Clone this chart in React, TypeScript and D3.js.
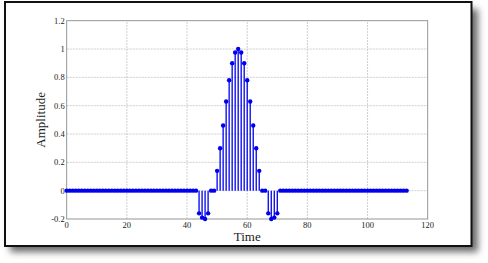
import * as d3 from 'd3';
import { useEffect, useRef } from 'react';

// samples 44..70; everything else sits on zero
const pulseStart = 44;
const pulse = [
  -0.16, -0.19, -0.2, -0.16, 0, 0,
  0.14, 0.3, 0.46, 0.63, 0.78, 0.9, 0.975, 1, 0.975, 0.9, 0.78, 0.63, 0.46, 0.3, 0.14,
  0, 0, -0.16, -0.2, -0.19, -0.16,
];
const sampleCount = 114;
const xTicks = [0, 20, 40, 60, 80, 100, 120];
const yTicks = [-0.2, 0, 0.2, 0.4, 0.6, 0.8, 1, 1.2];

const App = () => {
  const ref = useRef<SVGSVGElement>(null);

  useEffect(() => {
    const svg = d3.select(ref.current);
    svg.selectAll('*').remove();

    var W = 488,
      H = 263;
    var margin = { top: 20.7, left: 66.7, right: 60.3, bottom: 44 };

    svg.attr('width', W).attr('height', H);

    // frame with drop shadow
    const defs = svg.append('defs');
    defs
      .append('filter')
      .attr('id', 'shadow')
      .attr('x', '-10%')
      .attr('y', '-10%')
      .attr('width', '130%')
      .attr('height', '140%')
      .append('feGaussianBlur')
      .attr('stdDeviation', 3.5);

    svg
      .append('rect')
      .attr('x', 10)
      .attr('y', 9)
      .attr('width', 468)
      .attr('height', 243)
      .attr('fill', '#444')
      .attr('opacity', 0.8)
      .attr('filter', 'url(#shadow)');
    svg
      .append('rect')
      .attr('x', 5)
      .attr('y', 2)
      .attr('width', 466.5)
      .attr('height', 244)
      .attr('fill', 'white')
      .attr('stroke', '#111')
      .attr('stroke-width', 2);

    const x = d3
      .scaleLinear()
      .domain([0, 120])
      .range([margin.left, W - margin.right]);
    const y = d3
      .scaleLinear()
      .domain([-0.2, 1.2])
      .range([H - margin.bottom, margin.top]);

    const data = d3.range(sampleCount).map((n) => {
      const i = n - pulseStart;
      return { t: n, v: i >= 0 && i < pulse.length ? pulse[i] : 0 };
    });

    // grid
    const grid = svg.append('g').attr('stroke', '#c4c4c4').attr('stroke-width', 0.8).attr('stroke-dasharray', '2,1');
    grid
      .selectAll('line.gx')
      .data(xTicks.slice(1, -1))
      .join('line')
      .attr('x1', (d) => x(d))
      .attr('x2', (d) => x(d))
      .attr('y1', y(-0.2))
      .attr('y2', y(1.2));
    grid
      .selectAll('line.gy')
      .data(yTicks.slice(1, -1))
      .join('line')
      .attr('class', 'gy')
      .attr('x1', x(0))
      .attr('x2', x(120))
      .attr('y1', (d) => y(d))
      .attr('y2', (d) => y(d));

    // box
    svg
      .append('rect')
      .attr('x', x(0))
      .attr('y', y(1.2))
      .attr('width', x(120) - x(0))
      .attr('height', y(-0.2) - y(1.2))
      .attr('fill', 'none')
      .attr('stroke', '#8a8a8a')
      .attr('stroke-width', 0.9);

    // stems
    svg
      .append('g')
      .selectAll('line')
      .data(data.filter((d) => d.v !== 0))
      .join('line')
      .attr('x1', (d) => x(d.t))
      .attr('x2', (d) => x(d.t))
      .attr('y1', y(0))
      .attr('y2', (d) => y(d.v))
      .attr('stroke', '#0000ee')
      .attr('stroke-width', 1.3);

    svg
      .append('g')
      .selectAll('circle')
      .data(data)
      .join('circle')
      .attr('cx', (d) => x(d.t))
      .attr('cy', (d) => y(d.v))
      .attr('r', 2.2)
      .attr('fill', '#0000ee');

    // tick labels
    const font = "'Liberation Serif', 'DejaVu Serif', serif";
    svg
      .append('g')
      .selectAll('text')
      .data(xTicks)
      .join('text')
      .attr('x', (d) => x(d))
      .attr('y', y(-0.2) + 9)
      .attr('text-anchor', 'middle')
      .attr('font-family', font)
      .attr('font-size', 8.5)
      .attr('fill', '#222')
      .text((d) => d);
    svg
      .append('g')
      .selectAll('text')
      .data(yTicks)
      .join('text')
      .attr('x', x(0) - 2)
      .attr('y', (d) => y(d) + 3)
      .attr('text-anchor', 'end')
      .attr('font-family', font)
      .attr('font-size', 8.5)
      .attr('fill', '#222')
      .text((d) => d);

    svg
      .append('text')
      .attr('x', (x(0) + x(120)) / 2)
      .attr('y', 241)
      .attr('text-anchor', 'middle')
      .attr('font-family', font)
      .attr('font-size', 13)
      .attr('fill', '#222')
      .text('Time');
    svg
      .append('text')
      .attr('transform', `translate(45, ${(y(-0.2) + y(1.2)) / 2}) rotate(-90)`)
      .attr('text-anchor', 'middle')
      .attr('font-family', font)
      .attr('font-size', 13)
      .attr('fill', '#222')
      .text('Amplitude');
  }, []);

  return <svg ref={ref} style={{ position: 'absolute', left: 0, top: 0 }}></svg>;
};

export default App;
